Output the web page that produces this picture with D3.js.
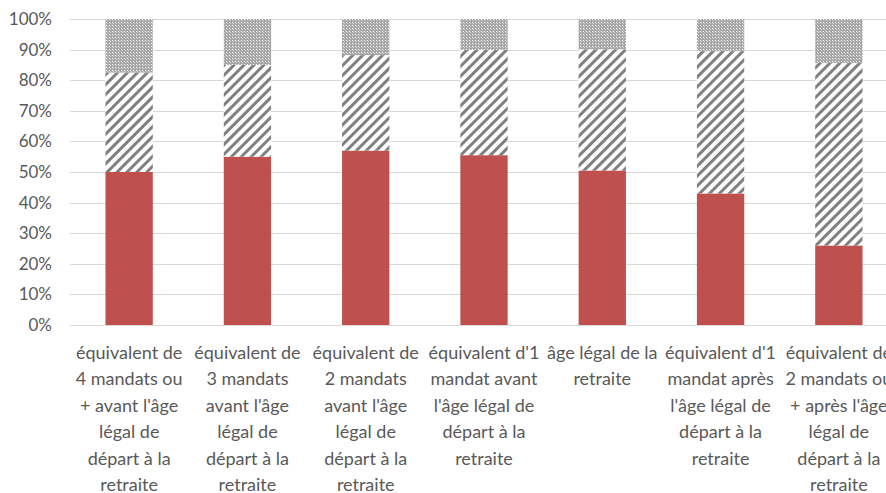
<!DOCTYPE html>
<html>
<head>
<meta charset="utf-8">
<script src="https://cdn.jsdelivr.net/npm/d3@7"></script>
<style>
  body { margin: 0; background: #fff; }
  svg { display: block; overflow: hidden; }
</style>
</head>
<body>
<script>
// categories, wrapped like the original labels
const categories = [
  "équivalent de\n4 mandats ou\n+ avant l'âge\nlégal de\ndépart à la\nretraite",
  "équivalent de\n3 mandats\navant l'âge\nlégal de\ndépart à la\nretraite",
  "équivalent de\n2 mandats\navant l'âge\nlégal de\ndépart à la\nretraite",
  "équivalent d'1\nmandat avant\nl'âge légal de\ndépart à la\nretraite",
  "âge légal de la\nretraite",
  "équivalent d'1\nmandat après\nl'âge légal de\ndépart à la\nretraite",
  "équivalent de\n2 mandats ou\n+ après l'âge\nlégal de\ndépart à la\nretraite"
];

// shares (%) of each stacked segment
const solid   = [50, 55, 57, 55.5, 50.5, 43, 26];
const hatched = [32.5, 30, 31.2, 34.4, 39.6, 46.5, 59.6];
const dotted  = [17.5, 15, 11.8, 10.1, 9.9, 10.5, 14.4];

const yTicks = [0, 0.1, 0.2, 0.3, 0.4, 0.5, 0.6, 0.7, 0.8, 0.9, 1];

const width = 886, height = 493;
const margin = { top: 19, left: 70, bottom: 168 };
const plotRight = 898;

const svg = d3.select("body").append("svg")
  .attr("width", width)
  .attr("height", height);

const defs = svg.append("defs");

// diagonal hatch
const hatch = defs.append("pattern")
  .attr("id", "hatch")
  .attr("patternUnits", "userSpaceOnUse")
  .attr("width", 7).attr("height", 7)
  .attr("patternTransform", "rotate(45)");
hatch.append("rect").attr("width", 7).attr("height", 7).attr("fill", "#fff");
hatch.append("rect").attr("width", 3).attr("height", 7).attr("fill", "#808080");

// fine dotted grid
const dots = defs.append("pattern")
  .attr("id", "dots")
  .attr("patternUnits", "userSpaceOnUse")
  .attr("width", 3).attr("height", 3);
dots.append("rect").attr("width", 3).attr("height", 3).attr("fill", "#a6a6a6");
dots.append("rect").attr("x", 1).attr("y", 1).attr("width", 1).attr("height", 1).attr("fill", "#ffffff");
dots.append("rect").attr("x", 2).attr("y", 2).attr("width", 1).attr("height", 1).attr("fill", "#d4d4d4");

const x = d3.scaleBand()
  .domain(categories)
  .range([margin.left, plotRight])
  .paddingInner(0.6)
  .paddingOuter(0.3);

const y = d3.scaleLinear()
  .domain([0, 1])
  .range([height - margin.bottom, margin.top]);

// gridlines
svg.append("g")
  .selectAll("line")
  .data(yTicks)
  .join("line")
  .attr("x1", margin.left)
  .attr("x2", width)
  .attr("y1", d => Math.round(y(d)) + 0.5)
  .attr("y2", d => Math.round(y(d)) + 0.5)
  .attr("stroke", "#d9d9d9")
  .attr("stroke-width", 1);

// y axis labels
const yAxis = d3.axisLeft(y)
  .tickValues(yTicks)
  .tickFormat(d3.format(".0%"))
  .tickSize(0)
  .tickPadding(0);

svg.append("g")
  .attr("transform", `translate(52,0)`)
  .call(yAxis)
  .call(g => g.select(".domain").remove())
  .call(g => g.selectAll("text")
    .attr("fill", "#595959")
    .attr("font-family", "Lato, sans-serif")
    .attr("font-size", "17px"));

// stacked bars
const rows = categories.map((c, i) => ({
  cat: c, solid: solid[i] / 100, hatched: hatched[i] / 100, dotted: dotted[i] / 100
}));
const stack = d3.stack().keys(["solid", "hatched", "dotted"]);
const fills = { solid: "#c0504d", hatched: "url(#hatch)", dotted: "url(#dots)" };

svg.append("g")
  .selectAll("g")
  .data(stack(rows))
  .join("g")
  .attr("fill", s => fills[s.key])
  .selectAll("rect")
  .data(s => s)
  .join("rect")
  .attr("x", d => x(d.data.cat))
  .attr("width", x.bandwidth())
  .attr("y", d => y(d[1]))
  .attr("height", d => y(d[0]) - y(d[1]));

// category labels
const lab = svg.append("g")
  .attr("font-family", "Lato, sans-serif")
  .attr("font-size", "18px")
  .attr("fill", "#595959")
  .attr("text-anchor", "middle")
  .selectAll("text")
  .data(categories)
  .join("text")
  .attr("x", d => x(d) + x.bandwidth() / 2)
  .attr("y", 359);

lab.selectAll("tspan")
  .data(d => d.split("\n"))
  .join("tspan")
  .attr("x", function() { return this.parentNode.getAttribute("x"); })
  .attr("dy", (d, i) => i === 0 ? 0 : 26.4)
  .text(d => d);
</script>
</body>
</html>
